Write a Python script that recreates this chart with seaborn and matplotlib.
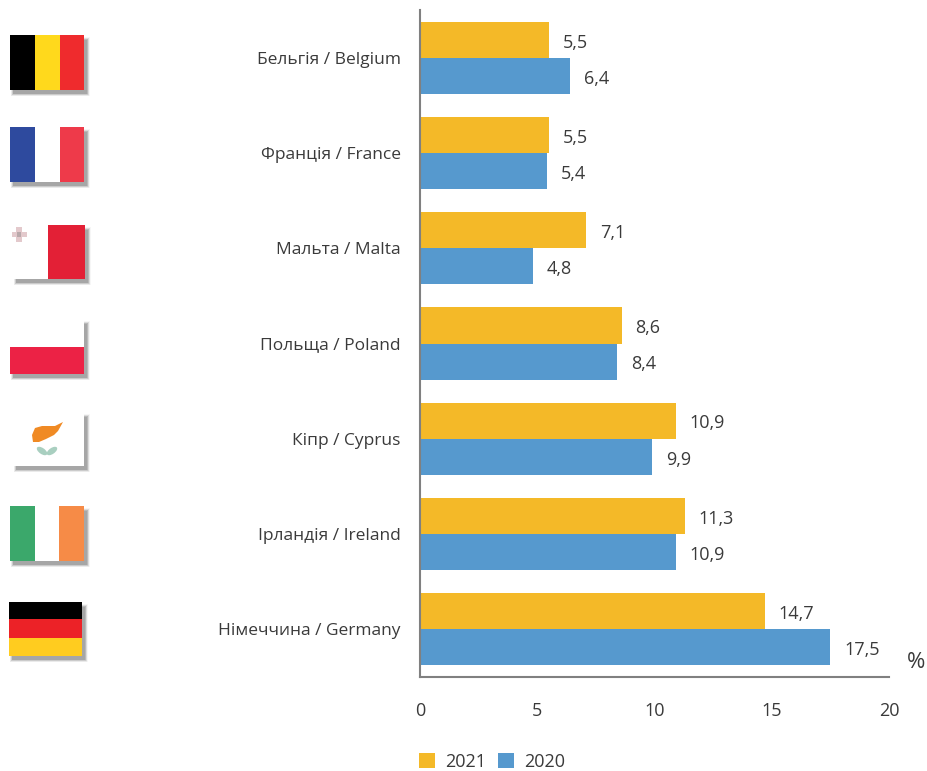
#!/usr/bin/env python3
import matplotlib
matplotlib.use("Agg")
import matplotlib.pyplot as plt
import pandas as pd
import seaborn as sns
from matplotlib.patches import Ellipse, Polygon, Rectangle

W, H = 928, 771

countries = ["Бельгія / Belgium", "Франція / France", "Мальта / Malta", "Польща / Poland",
             "Кіпр / Cyprus", "Ірландія / Ireland", "Німеччина / Germany"]
values_2021 = [5.5, 5.5, 7.1, 8.6, 10.9, 11.3, 14.7]
values_2020 = [6.4, 5.4, 4.8, 8.4, 9.9, 10.9, 17.5]
years = ["2021", "2020"]
year_colors = ["#F4B928", "#5699CE"]
x_ticks = [0, 5, 10, 15, 20]

TEXT = "#3A3A3A"
AXIS = "#808080"

sns.set_theme(style="white")
plt.rcParams["font.family"] = ["Open Sans", "DejaVu Sans"]


def comma(v):
    return f"{v:.1f}".replace(".", ",")


def flag_rect(ax, x0, y0, x1, y1, color):
    ax.add_patch(Rectangle((x0, y0), x1 - x0, y1 - y0, fc=color, ec="none", zorder=3))


def flag_shadow(ax, x0, y0, x1, y1):
    # soft shadow to the lower right of each flag
    for grow, alpha in [(6, 0.05), (5, 0.07), (4, 0.09), (3, 0.12), (2, 0.15), (1, 0.18)]:
        ax.add_patch(Rectangle((x0 + 4 - grow / 2, y0 + 5 - grow / 2),
                               x1 - x0 + grow - 1, y1 - y0 + grow - 2,
                               fc="#555555", ec="none", alpha=alpha, zorder=1))
    flag_rect(ax, x0, y0, x1, y1, "#FFFFFF")


def draw_flags(ax):
    flag_shadow(ax, 10, 35, 84, 90)
    flag_rect(ax, 10, 35, 35, 90, "#000000")
    flag_rect(ax, 35, 35, 60, 90, "#FFD91C")
    flag_rect(ax, 60, 35, 84, 90, "#EF2B2D")

    flag_shadow(ax, 10, 127, 84, 182)
    flag_rect(ax, 10, 127, 35, 182, "#2E4A9E")
    flag_rect(ax, 60, 127, 84, 182, "#EE3A4A")

    flag_shadow(ax, 13, 225, 85, 279)
    flag_rect(ax, 48, 225, 85, 279, "#E32036")
    flag_rect(ax, 16, 227, 22, 242, "#E3C9CC")
    flag_rect(ax, 12, 232, 27, 237, "#E3C9CC")
    flag_rect(ax, 17, 232, 21, 237, "#B9A9AB")

    flag_shadow(ax, 10, 319, 84, 374)
    flag_rect(ax, 10, 347, 84, 374, "#EC2245")

    flag_shadow(ax, 13, 412, 84, 466)
    cyprus = [(32, 435), (35, 428), (42, 426), (50, 426), (55, 426), (63, 422),
              (58, 431), (54, 435), (46, 439), (39, 442), (33, 442)]
    ax.add_patch(Polygon(cyprus, fc="#F08A24", ec="none", zorder=4))
    ax.add_patch(Ellipse((42, 451), 12, 6, angle=35, fc="#A9CFC0", ec="none", zorder=4))
    ax.add_patch(Ellipse((52, 451), 12, 6, angle=-35, fc="#A9CFC0", ec="none", zorder=4))

    flag_shadow(ax, 10, 506, 84, 561)
    flag_rect(ax, 10, 506, 35, 561, "#3BA86B")
    flag_rect(ax, 59, 506, 84, 561, "#F68B47")

    flag_shadow(ax, 9, 602, 82, 656)
    flag_rect(ax, 9, 602, 82, 619, "#000000")
    flag_rect(ax, 9, 619, 82, 638, "#EC2227")
    flag_rect(ax, 9, 638, 82, 656, "#FFCC1F")


df = pd.DataFrame({
    "country": countries * 2,
    "value": values_2021 + values_2020,
    "year": [years[0]] * len(countries) + [years[1]] * len(countries),
})

fig = plt.figure(figsize=(W / 100, H / 100), dpi=100, facecolor="white")
ax = fig.add_axes([420 / W, 1 - 677 / H, 469 / W, 667 / H])

sns.barplot(data=df, y="country", x="value", hue="year", order=countries, hue_order=years,
            palette=year_colors, width=0.76, saturation=1, gap=0, linewidth=0, ax=ax, zorder=2)

ax.set_xlim(0, 20)
ax.set_ylim(6.504, -0.504)
ax.set_xticks(x_ticks)
ax.set_xlabel("")
ax.set_ylabel("")
ax.tick_params(axis="x", length=0, pad=18, labelsize=13, labelcolor=TEXT)
ax.tick_params(axis="y", length=0, pad=14, labelsize=12.5, labelcolor=TEXT)

sns.despine(ax=ax, top=True, right=True)
for side in ["left", "bottom"]:
    ax.spines[side].set_color(AXIS)
    ax.spines[side].set_linewidth(1.5)

for container in ax.containers:
    vals = [bar.get_width() for bar in container]
    labels = ax.bar_label(container, labels=[comma(v) for v in vals], padding=10,
                          fontsize=13, color=TEXT)
    for label in labels:
        label.xyann = (10, -2)

fig.text(916 / W, 1 - 662 / H, "%", fontsize=16, color=TEXT, ha="center", va="center")

sns.move_legend(ax, "center left", bbox_to_anchor=(403 / W, 1 - 762 / H),
                bbox_transform=fig.transFigure, ncol=2, frameon=False, title=None,
                fontsize=13, handlelength=0.9, handleheight=0.9, handletextpad=0.55,
                columnspacing=0.65, labelcolor=TEXT)

overlay = fig.add_axes([0, 0, 1, 1], facecolor="none")
overlay.set_xlim(0, W)
overlay.set_ylim(H, 0)
overlay.axis("off")
draw_flags(overlay)

fig.savefig("out.png", dpi=100, facecolor="white")
